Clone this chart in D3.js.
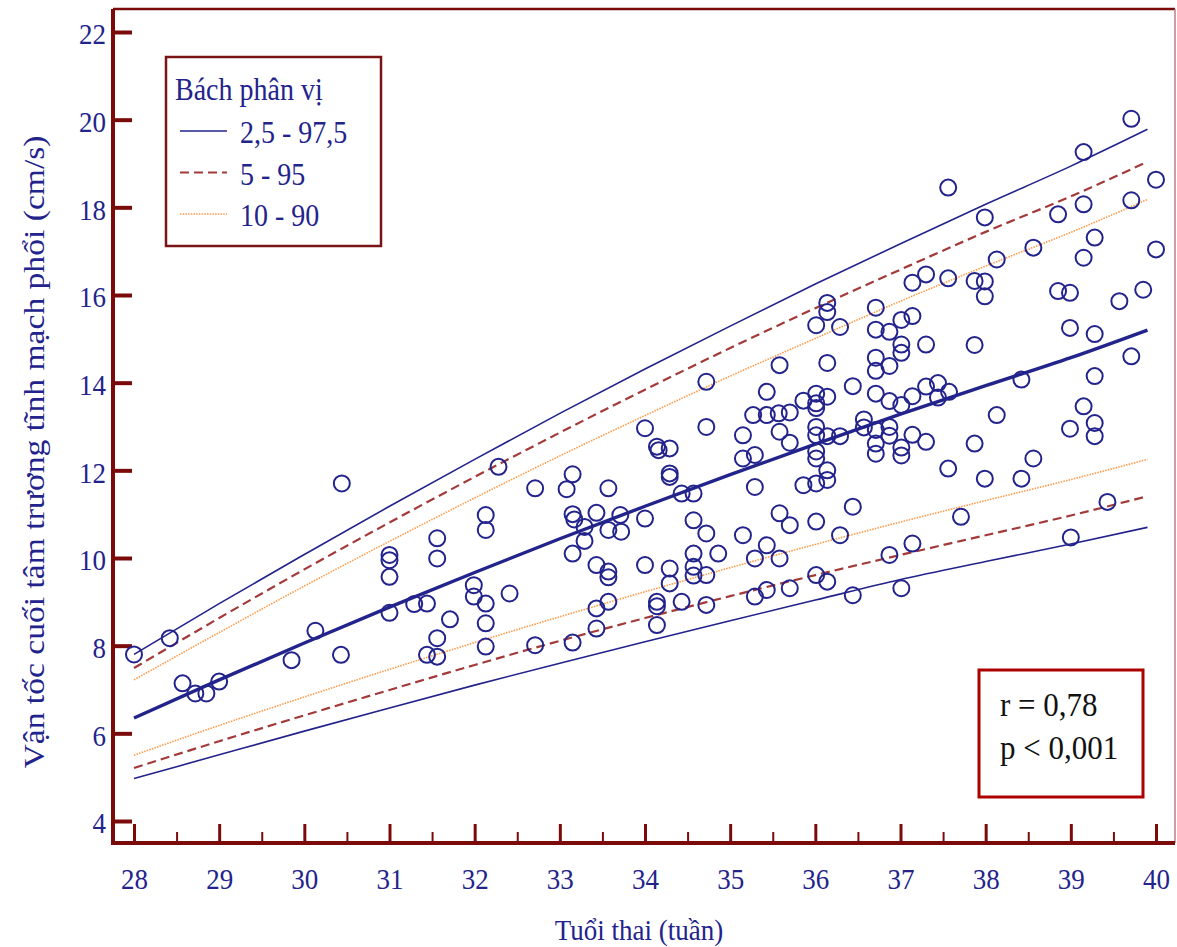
<!DOCTYPE html>
<html>
<head>
<meta charset="utf-8">
<script src="https://cdn.jsdelivr.net/npm/d3@7"></script>
<style>
  body { margin: 0; background: #fff; }
  svg text { font-family: "Liberation Serif", "Times New Roman", serif; }
</style>
</head>
<body>
<div id="chart"></div>
<script>
const curveWeeks = [28, 29, 30, 31, 32, 33, 34, 35, 36, 37, 38, 39, 39.9];
const p025 = [4.97, 5.51, 6.05, 6.58, 7.10, 7.60, 8.09, 8.57, 9.04, 9.51, 9.92, 10.32, 10.70];
const p05 = [5.21, 5.82, 6.41, 6.99, 7.56, 8.11, 8.63, 9.13, 9.61, 10.07, 10.52, 10.97, 11.41];
const p10 = [5.50, 6.18, 6.83, 7.46, 8.07, 8.66, 9.23, 9.78, 10.31, 10.82, 11.31, 11.79, 12.25];
const p50 = [6.35, 7.22, 8.06, 8.88, 9.67, 10.44, 11.18, 11.90, 12.60, 13.28, 13.93, 14.57, 15.20];
const p90 = [7.22, 8.30, 9.36, 10.38, 11.37, 12.33, 13.25, 14.15, 15.01, 15.86, 16.66, 17.43, 18.18];
const p95 = [7.49, 8.63, 9.74, 10.81, 11.85, 12.86, 13.84, 14.79, 15.70, 16.58, 17.44, 18.25, 19.04];
const p975 = [7.80, 8.96, 10.08, 11.18, 12.25, 13.30, 14.31, 15.29, 16.25, 17.17, 18.07, 18.94, 19.78];

// Measurements: [gestational week, velocity cm/s]
const points = [
  [28.0, 7.80], [28.42, 8.17], [28.57, 7.14], [28.72, 6.91], [28.85, 6.91], [29.0, 7.18],
  [29.85, 7.67], [30.13, 8.34], [30.43, 7.79], [30.44, 11.70],
  [31.0, 10.07], [31.0, 9.95], [31.0, 9.57], [31.0, 8.75],
  [31.29, 8.95], [31.44, 8.96], [31.44, 7.79],
  [31.56, 10.45], [31.56, 9.99], [31.56, 8.17], [31.56, 7.75], [31.71, 8.60],
  [31.99, 9.38], [31.99, 9.12],
  [32.13, 10.98], [32.13, 10.64], [32.13, 8.96], [32.13, 8.51], [32.13, 7.98],
  [32.28, 12.08], [32.41, 9.19], [32.71, 11.59], [32.71, 8.01],
  [33.08, 11.57], [33.15, 11.91], [33.15, 11.0], [33.17, 10.88], [33.15, 10.10], [33.15, 8.07],
  [33.29, 10.71], [33.29, 10.39],
  [33.43, 11.03], [33.43, 9.84], [33.43, 8.85], [33.43, 8.39],
  [33.57, 11.59], [33.57, 10.64], [33.57, 9.69], [33.57, 9.56], [33.57, 9.0],
  [33.71, 10.98], [33.72, 10.60],
  [34.0, 12.96], [34.0, 10.90], [34.0, 9.84],
  [34.14, 12.54], [34.16, 12.46], [34.14, 9.0], [34.14, 8.90], [34.14, 8.47],
  [34.29, 12.50], [34.29, 11.93], [34.29, 11.85], [34.29, 9.76], [34.29, 9.42],
  [34.43, 11.47], [34.43, 9.0],
  [34.57, 11.47], [34.57, 10.86], [34.57, 10.10], [34.57, 9.80], [34.57, 9.60],
  [34.72, 14.02], [34.72, 12.99], [34.72, 10.56], [34.72, 9.61], [34.72, 8.93],
  [34.86, 10.10],
  [35.15, 12.80], [35.15, 12.27], [35.15, 10.52],
  [35.27, 13.26], [35.29, 12.35], [35.29, 11.62], [35.29, 9.99], [35.29, 9.12],
  [35.43, 13.79], [35.43, 13.26], [35.43, 10.29], [35.43, 9.27],
  [35.58, 14.40], [35.57, 13.30], [35.58, 12.88], [35.58, 11.02], [35.58, 9.99],
  [35.70, 13.32], [35.70, 12.63], [35.70, 10.75], [35.70, 9.31],
  [35.86, 13.59], [35.86, 11.66],
  [36.01, 15.31], [36.01, 13.75], [36.01, 13.53], [36.01, 13.42], [36.01, 12.99], [36.01, 12.80],
  [36.01, 12.43], [36.01, 12.27], [36.01, 11.70], [36.01, 10.83], [36.01, 9.61],
  [36.14, 15.82], [36.14, 15.61], [36.14, 14.45], [36.14, 13.68], [36.14, 12.78], [36.14, 12.0],
  [36.14, 11.78], [36.14, 9.46],
  [36.29, 15.27], [36.29, 12.78], [36.29, 10.52],
  [36.44, 13.92], [36.44, 11.17], [36.44, 9.15],
  [36.57, 13.16], [36.57, 12.98],
  [36.71, 15.71], [36.71, 15.21], [36.71, 14.57], [36.71, 14.27], [36.71, 13.75], [36.71, 12.92],
  [36.71, 12.61], [36.71, 12.38],
  [36.87, 15.16], [36.87, 14.38], [36.87, 13.58], [36.87, 12.99], [36.87, 12.79], [36.87, 10.07],
  [37.01, 15.43], [37.01, 14.87], [37.01, 14.68], [37.01, 13.49], [37.01, 12.52], [37.01, 12.34], [37.01, 9.31],
  [37.14, 16.28], [37.14, 15.52], [37.14, 13.69], [37.14, 12.81], [37.14, 10.33],
  [37.30, 16.47], [37.30, 14.87], [37.30, 13.91], [37.30, 12.65],
  [37.44, 13.99], [37.44, 13.66],
  [37.56, 18.45], [37.56, 16.38], [37.57, 13.79], [37.56, 12.04],
  [37.71, 10.94],
  [37.87, 16.32], [37.87, 14.86], [37.87, 12.61],
  [37.99, 17.77], [37.99, 16.31], [37.99, 15.97], [37.99, 11.81],
  [38.13, 16.81], [38.13, 13.26],
  [38.42, 14.07], [38.42, 11.81],
  [38.56, 17.08], [38.56, 12.27],
  [38.85, 17.84], [38.85, 16.09],
  [38.99, 16.05], [38.99, 15.25], [38.99, 12.95], [39.0, 10.47],
  [39.15, 19.26], [39.15, 18.07], [39.15, 16.85], [39.15, 13.46],
  [39.28, 17.31], [39.28, 15.11], [39.28, 14.15], [39.28, 13.08], [39.28, 12.78],
  [39.43, 11.28], [39.57, 15.86],
  [39.71, 20.02], [39.71, 18.16], [39.71, 14.60],
  [39.85, 16.12], [40.0, 18.63], [40.0, 17.04]
];

const xTicks = [28, 29, 30, 31, 32, 33, 34, 35, 36, 37, 38, 39, 40];
const xMinorTicks = [28.5, 29.5, 30.5, 31.5, 32.5, 33.5, 34.5, 35.5, 36.5, 37.5, 38.5, 39.5];
const yTicks = [4, 6, 8, 10, 12, 14, 16, 18, 20, 22];
const xTitle = "Tuổi thai (tuần)";
const yTitle = "Vận tốc cuối tâm trương tĩnh mạch phổi (cm/s)";
const legendTitle = "Bách phân vị";
const legendLabels = ["2,5 - 97,5", "5 - 95", "10 - 90"];
const statLines = ["r = 0,78", "p < 0,001"];

// Colours
const navy = "#23238c";
const axisRed = "#7b0b0b";
const dashRed = "#a33a3a";
const dotOrange = "#ff9a4a";
const stretch = 1.12; // the picture's text is a little taller than wide

const width = 1177, height = 947;
const frame = { left: 113, right: 1175, top: 9, bottom: 843 };

const svg = d3.select("#chart").append("svg")
  .attr("width", width)
  .attr("height", height);

const x = d3.scaleLinear().domain([28, 40]).range([134, 1156]);
const y = d3.scaleLinear().domain([4, 22]).range([821, 32]);

// text helper with the slight vertical stretch
function label(parent, px, py, txt, size, color, anchor) {
  return parent.append("text")
    .attr("transform", `translate(${px},${py}) scale(1,${stretch})`)
    .attr("text-anchor", anchor || "start")
    .attr("font-size", size)
    .attr("fill", color)
    .text(txt);
}

// Frame
svg.append("line").attr("x1", frame.left).attr("x2", frame.right).attr("y1", frame.top).attr("y2", frame.top)
  .attr("stroke", axisRed).attr("stroke-width", 2.5);
svg.append("line").attr("x1", frame.right).attr("x2", frame.right).attr("y1", frame.top).attr("y2", frame.bottom)
  .attr("stroke", "#b98080").attr("stroke-width", 1.5);

// Y axis (ticks point inward)
const yAxis = svg.append("g")
  .attr("transform", `translate(${frame.left},0)`)
  .call(d3.axisLeft(y).tickValues(yTicks).tickSizeInner(-19).tickSizeOuter(0).tickPadding(7));
yAxis.select(".domain").remove();
yAxis.selectAll(".tick line").attr("stroke", axisRed).attr("stroke-width", 4);
yAxis.selectAll(".tick text")
  .attr("font-family", null)
  .attr("font-size", 27)
  .attr("fill", navy)
  .attr("dy", null)
  .attr("y", 10.5)
  .attr("transform", `scale(1,${stretch})`);

// X axis, major and minor ticks
const xAxis = svg.append("g")
  .attr("transform", `translate(0,${frame.bottom})`)
  .call(d3.axisBottom(x).tickValues(xTicks).tickSizeInner(-19).tickSizeOuter(0).tickPadding(0));
xAxis.select(".domain").remove();
xAxis.selectAll(".tick line").attr("stroke", axisRed).attr("stroke-width", 3);
xAxis.selectAll(".tick text")
  .attr("font-family", null)
  .attr("font-size", 27)
  .attr("fill", navy)
  .attr("dy", null)
  .attr("y", 41)
  .attr("transform", `scale(1,${stretch})`);

const xMinor = svg.append("g")
  .attr("transform", `translate(0,${frame.bottom})`)
  .call(d3.axisBottom(x).tickValues(xMinorTicks).tickSizeInner(-11).tickSizeOuter(0).tickFormat(""));
xMinor.select(".domain").remove();
xMinor.selectAll(".tick line").attr("stroke", axisRed).attr("stroke-width", 2);

// Spines
svg.append("line").attr("x1", frame.left).attr("x2", frame.left).attr("y1", frame.top).attr("y2", frame.bottom + 2)
  .attr("stroke", axisRed).attr("stroke-width", 4);
svg.append("line").attr("x1", frame.left - 2).attr("x2", frame.right).attr("y1", frame.bottom).attr("y2", frame.bottom)
  .attr("stroke", axisRed).attr("stroke-width", 4);

// Axis titles
label(svg, 639, 940, xTitle, 27, navy, "middle");
svg.append("text")
  .attr("transform", `translate(44,452) rotate(-90) scale(${stretch},1)`)
  .attr("text-anchor", "middle")
  .attr("font-size", 30)
  .attr("fill", navy)
  .text(yTitle);

// Percentile curves
const line = d3.line()
  .x((d, i) => x(curveWeeks[i]))
  .y(d => y(d))
  .curve(d3.curveMonotoneX);

const curves = [
  { values: p025, color: navy, w: 1.6, dash: null },
  { values: p975, color: navy, w: 1.6, dash: null },
  { values: p05, color: dashRed, w: 2.2, dash: "9,5" },
  { values: p95, color: dashRed, w: 2.2, dash: "9,5" },
  { values: p10, color: dotOrange, w: 1.6, dash: "1.5,1.2" },
  { values: p90, color: dotOrange, w: 1.6, dash: "1.5,1.2" },
  { values: p50, color: navy, w: 3.4, dash: null }
];

svg.append("g").selectAll("path")
  .data(curves)
  .enter().append("path")
  .attr("d", d => line(d.values))
  .attr("fill", "none")
  .attr("stroke", d => d.color)
  .attr("stroke-width", d => d.w)
  .attr("stroke-dasharray", d => d.dash);

// Scatter points
svg.append("g").selectAll("circle")
  .data(points)
  .enter().append("circle")
  .attr("cx", d => x(d[0]))
  .attr("cy", d => y(d[1]))
  .attr("r", 8)
  .attr("fill", "none")
  .attr("stroke", navy)
  .attr("stroke-width", 2);

// Legend box
const legend = svg.append("g");
legend.append("rect")
  .attr("x", 166).attr("y", 57).attr("width", 215).attr("height", 189)
  .attr("fill", "#fff").attr("stroke", "#7b1414").attr("stroke-width", 2.5);
label(legend, 175, 100, legendTitle, 28, navy);
const legendStyles = [curves[0], curves[2], curves[4]];
legendLabels.forEach((txt, i) => {
  const ly = 131 + i * 41.5;
  legend.append("line")
    .attr("x1", 180).attr("x2", 227).attr("y1", ly).attr("y2", ly)
    .attr("stroke", legendStyles[i].color)
    .attr("stroke-width", legendStyles[i].w)
    .attr("stroke-dasharray", legendStyles[i].dash);
  label(legend, 240, ly + 12, txt, 28, navy);
});

// Correlation box
const stats = svg.append("g");
stats.append("rect")
  .attr("x", 979).attr("y", 670).attr("width", 164).attr("height", 127)
  .attr("fill", "#fff").attr("stroke", "#ad0000").attr("stroke-width", 3);
statLines.forEach((txt, i) => {
  label(stats, 1000, 716 + i * 43, txt, 31, "#111");
});
</script>
</body>
</html>
